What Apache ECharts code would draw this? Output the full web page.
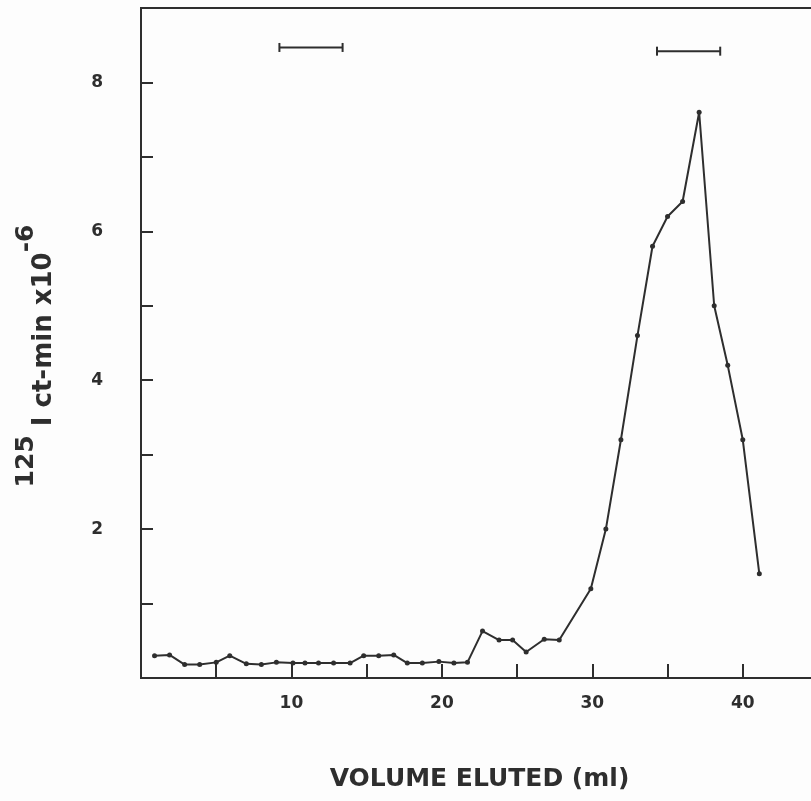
<!DOCTYPE html>
<html>
<head>
<meta charset="utf-8">
<script src="https://cdn.jsdelivr.net/npm/echarts@6/dist/echarts.min.js"></script>
<style>
  html, body { margin: 0; padding: 0; background: #fdfdfd; overflow: hidden; }
  #chart { width: 830px; height: 801px; }
</style>
</head>
<body>
<div id="chart"></div>
<script>
// fraction volume (ml) and 125I counts (x10^-6)
var volume = [0.9, 1.9, 2.9, 3.9, 5.0, 5.9, 7.0, 8.0, 9.0, 10.1,
  10.9, 11.8, 12.8, 13.9, 14.8, 15.8, 16.8, 17.7, 18.7, 19.8,
  20.8, 21.7, 22.7, 23.8, 24.7, 25.6, 26.8, 27.8, 29.9, 30.9,
  31.9, 33.0, 34.0, 35.0, 36.0, 37.1, 38.1, 39.0, 40.0, 41.1];
var counts = [0.30, 0.31, 0.18, 0.18, 0.21, 0.30, 0.19, 0.18, 0.21, 0.20,
  0.20, 0.20, 0.20, 0.20, 0.30, 0.30, 0.31, 0.20, 0.20, 0.22,
  0.20, 0.21, 0.63, 0.51, 0.51, 0.35, 0.52, 0.51, 1.2, 2.0,
  3.2, 4.6, 5.8, 6.2, 6.4, 7.6, 5.0, 4.2, 3.2, 1.4];
// pooled ranges marked at the top
var rangeLeft = [[9.2, 8.47], [13.4, 8.47]];
var rangeRight = [[34.3, 8.42], [38.5, 8.42]];
var xLabels = [10, 20, 30, 40];
var yLabels = [2, 4, 6, 8];

var chart = echarts.init(document.getElementById('chart'));
var ink = '#2e2e2e';
var font = 'DejaVu Sans';

var points = volume.map(function (v, i) { return [v, counts[i]]; });

var option = {
  backgroundColor: '#fdfdfd',
  animation: false,
  grid: {
    left: 141,
    top: 8,
    width: 677,
    height: 670,
    outerBoundsMode: 'none',
    show: true,
    borderColor: ink,
    borderWidth: 2,
    backgroundColor: 'transparent'
  },
  xAxis: {
    type: 'value',
    min: 0,
    max: 45,
    interval: 5,
    splitLine: { show: false },
    axisLine: { lineStyle: { color: ink, width: 2 } },
    axisTick: { inside: true, length: 14, lineStyle: { color: ink, width: 2 } },
    axisLabel: {
      margin: 17,
      color: ink,
      fontFamily: font,
      fontWeight: 'bold',
      fontSize: 17,
      formatter: function (v) { return xLabels.indexOf(v) >= 0 ? String(v) : ''; }
    },
    name: 'VOLUME ELUTED (ml)',
    nameLocation: 'middle',
    nameGap: 89,
    nameTextStyle: { color: ink, fontFamily: font, fontWeight: 'bold', fontSize: 25 }
  },
  yAxis: {
    type: 'value',
    min: 0,
    max: 9,
    interval: 1,
    splitLine: { show: false },
    axisLine: { lineStyle: { color: ink, width: 2 } },
    axisTick: { inside: true, length: 12, lineStyle: { color: ink, width: 2 } },
    axisLabel: {
      margin: 38,
      color: ink,
      fontFamily: font,
      fontWeight: 'bold',
      fontSize: 17,
      formatter: function (v) { return yLabels.indexOf(v) >= 0 ? String(v) : ''; }
    },
    name: '{s|125}{n| I ct-min x10}{s|-6}',
    nameLocation: 'middle',
    nameGap: 97,
    nameTextStyle: {
      padding: [0, 26, 0, 0],
      rich: {
        s: { fontFamily: font, fontWeight: 'bold', fontSize: 25, color: ink, lineHeight: 22, verticalAlign: 'top' },
        n: { fontFamily: font, fontWeight: 'bold', fontSize: 26, color: ink, lineHeight: 30, padding: [17, 0, 0, 0], verticalAlign: 'top' }
      }
    }
  },
  series: [{
    type: 'line',
    data: points,
    symbol: 'circle',
    symbolSize: 5,
    lineStyle: { color: ink, width: 2 },
    itemStyle: { color: ink }
  }, {
    type: 'line',
    data: rangeLeft,
    symbol: 'rect',
    symbolSize: [2, 9],
    lineStyle: { color: ink, width: 2 },
    itemStyle: { color: ink }
  }, {
    type: 'line',
    data: rangeRight,
    symbol: 'rect',
    symbolSize: [2, 9],
    lineStyle: { color: ink, width: 2 },
    itemStyle: { color: ink }
  }]
};
chart.setOption(option);
</script>
</body>
</html>
